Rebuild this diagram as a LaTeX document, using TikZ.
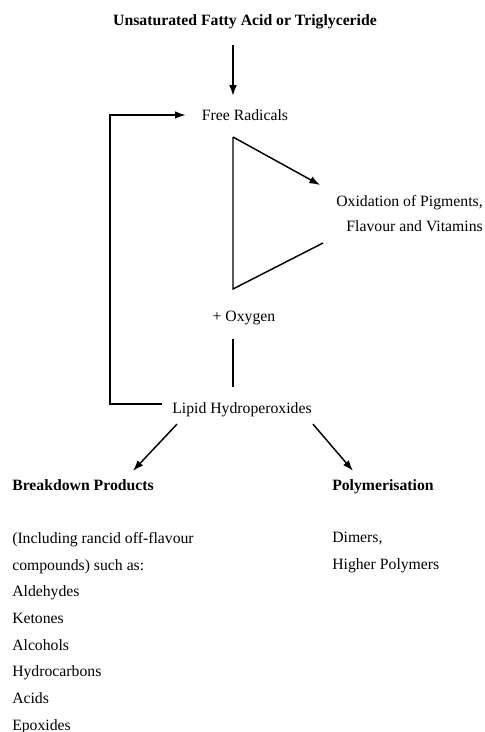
\documentclass[tikz,border=0pt]{standalone}
\usepackage{fontspec}
\setmainfont{Liberation Serif}
\usetikzlibrary{arrows.meta,positioning}
\tikzset{
  lbl/.style={inner sep=0pt, font=\fontsize{11.8}{14}\selectfont},
  head/.style={inner sep=0pt, font=\fontsize{11.8}{14}\selectfont\bfseries},
  lst/.style={inner sep=0pt, align=left, font=\fontsize{11.8}{20}\selectfont},
  arr/.style={-{Latex[length=2.8mm,width=2mm]}, line width=1.1pt},
  ln/.style={line width=1.1pt},
}

\begin{document}
\begin{tikzpicture}[x=0.75pt,y=-0.75pt]
  \useasboundingbox (0,0) rectangle (485,732);
  % chain of oxidation
  \node[head] (src) at (245,22) {Unsaturated Fatty Acid or Triglyceride};
  \node[lbl] (free) at (245,115) {Free Radicals};
  \node[lbl, align=right, anchor=east, font=\fontsize{11.8}{18.75}\selectfont] (pig) at (483,214) {Oxidation of Pigments,\\Flavour and Vitamins};
  \node[lbl] (oxy) at (244,318) {+ Oxygen};
  \node[lbl] (lipid) at (242,410) {Lipid Hydroperoxides};
  % products
  \node[head, anchor=base west] (brk) at (12,490) {Breakdown Products};
  \node[head, anchor=base west] (poly) at (332,490) {Polymerisation};
  \node[lst, anchor=north west] (comp) at (12,532) {(Including rancid off-flavour\\compounds) such as:\\Aldehydes\\Ketones\\Alcohols\\Hydrocarbons\\Acids\\Epoxides};
  \node[lst, anchor=north west] (dim) at (332,532) {Dimers,\\Higher Polymers};

  \coordinate (tv) at (233,137);
  \coordinate (bv) at (233,289);
  \coordinate (tipox) at (320,185);
  \coordinate (endox) at (323,243);
  \coordinate (fbk) at (110,404);

  \draw[arr, shorten <=12pt, shorten >=10pt] (src.south -| tv) -- (free.north -| tv);
  \draw[arr] (tv) -- (tipox);
  \draw[ln] (endox) -- (bv) -- (tv);
  \draw[ln, shorten <=10pt, shorten >=12pt] (oxy.south -| bv) -- (lipid.north -| bv);
  \draw[arr, shorten <=7.5pt, shorten >=12pt] ([yshift=4.5pt]lipid.west) -- (fbk) |- (free.west);
  \draw[arr] ([xshift=3.75pt,yshift=-5pt]lipid.south west) -- ([xshift=37.5pt,yshift=6pt]brk.north);
  \draw[arr] ([xshift=0.75pt,yshift=-5pt]lipid.south east) -- ([xshift=-22.5pt,yshift=6pt]poly.north);
\end{tikzpicture}
\end{document}
